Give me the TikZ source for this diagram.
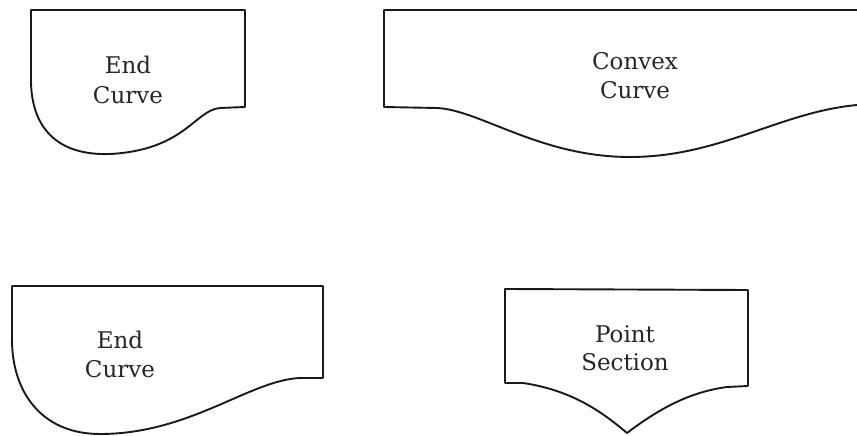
\documentclass[tikz,border=0pt]{standalone}
\usepackage{fontspec}
\setmainfont{DejaVu Serif}
\begin{document}
\begin{tikzpicture}[x=1pt,y=-1pt,
  outline/.style={line width=1.9pt,line join=round,line cap=round,black!90},
  lbl/.style={anchor=base,inner sep=0pt,font=\fontsize{23pt}{27pt}\selectfont,text=black!85}]
\useasboundingbox (0,0) rectangle (857,436);
% shape 1: End Curve (top left)
\draw[outline] (31,10) -- (245,10) -- (245,107) -- (220,108)
  .. controls (195,110) and (185,150) .. (110,154)
  .. controls (50,156) and (31,120) .. (31,80) -- cycle;
\node[lbl] (a1) at (128,74) {End};
\node[lbl] (a2) at (128,103) {Curve};
% shape 2: Convex Curve (top right)
\draw[outline] (857,10) -- (384,10) -- (384,107) -- (437,108)
  .. controls (480,110) and (540,157) .. (630,157)
  .. controls (720,157) and (780,112) .. (857,105);
\node[lbl] (b1) at (635,70) {Convex};
\node[lbl] (b2) at (635,99) {Curve};
% shape 3: End Curve (bottom left)
\draw[outline] (12,286) -- (323,286) -- (323,378) -- (300,378)
  .. controls (250,380) and (190,434) .. (100,434)
  .. controls (40,434) and (12,390) .. (12,340) -- cycle;
\node[lbl] (c1) at (120,348) {End};
\node[lbl] (c2) at (120,377) {Curve};
% shape 4: Point Section (bottom right)
\draw[outline] (505,289) -- (748,290) -- (748,386) -- (727,387)
  .. controls (690,392) and (660,408) .. (627,433)
  .. controls (600,410) and (570,390) .. (523,383) -- (505,383) -- cycle;
\node[lbl] (d1) at (625,342) {Point};
\node[lbl] (d2) at (625,370) {Section};
\end{tikzpicture}
\end{document}
